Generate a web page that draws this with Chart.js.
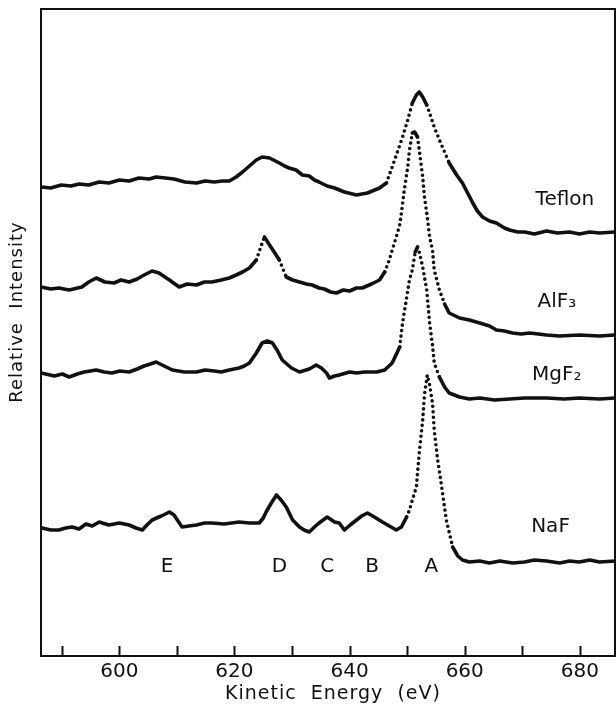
<!DOCTYPE html>
<html>
<head>
<meta charset="utf-8">
<script src="https://cdn.jsdelivr.net/npm/chart.js@4.4.1/dist/chart.umd.min.js"></script>
<style>
  html, body { margin: 0; padding: 0; background: #fff; }
  #wrap { width: 616px; height: 710px; }
</style>
</head>
<body>
<div id="wrap"><canvas id="chart"></canvas></div>
<script>
// x axis ticks (eV)
const xTicks = [590, 600, 610, 620, 630, 640, 650, 660, 670, 680];
const xTickLabels = ['', '600', '', '620', '', '640', '', '660', '', '680'];

// Teflon
const teflonEnergy = [586.4, 588.1, 589.9, 591.6, 593.0, 594.7, 596.5, 598.2, 600.0, 601.7, 603.4, 605.2, 606.4, 608.0, 609.5, 611.4, 613.4, 614.9, 616.5, 617.9, 619.1, 620.3, 621.4, 622.6, 623.8, 624.8, 626.1, 627.8, 628.7, 629.5, 630.7, 631.8, 633.0, 633.9, 634.7, 636.1, 637.4, 639.1, 641.2, 643.1, 645.2, 646.4, 647.4, 648.3, 649.2, 650.1, 650.9, 651.6, 652.1, 652.7, 653.4, 653.9, 654.7, 655.6, 656.5, 657.3, 658.6, 659.6, 660.5, 661.4, 662.2, 663.1, 664.3, 665.5, 666.9, 667.8, 669.2, 670.4, 672.1, 674.2, 676.1, 678.2, 679.9, 681.7, 683.4, 686.1];
const teflonIntensity = [469, 468, 471, 470, 472, 471, 474, 473, 476, 475, 478, 477, 479, 478, 477, 474, 473, 475, 474, 475, 475, 479, 484, 490, 496, 499, 498, 493, 490, 488, 486, 481, 480, 476, 474, 470, 468, 464, 461, 463, 468, 473, 489, 504, 519, 536, 553, 561, 564, 559, 551, 543, 529, 516, 504, 493, 481, 473, 463, 453, 445, 439, 435, 433, 428, 426, 424, 424, 422, 425, 423, 424, 422, 424, 423, 424];

// AlF3
const alf3Energy = [586.4, 588.1, 589.5, 591.3, 593.5, 594.7, 596.0, 597.5, 599.1, 600.3, 601.7, 603.1, 604.3, 605.7, 606.9, 608.7, 610.4, 611.8, 613.4, 614.8, 616.1, 617.7, 619.1, 620.3, 621.4, 622.6, 623.8, 624.7, 625.2, 626.1, 626.9, 627.8, 628.5, 629.0, 630.1, 631.3, 632.5, 633.5, 634.7, 635.6, 636.7, 637.7, 638.9, 640.0, 641.2, 642.2, 643.8, 645.2, 646.1, 646.9, 647.4, 648.1, 648.7, 649.0, 649.5, 650.1, 650.4, 650.9, 651.3, 651.8, 652.1, 652.7, 653.0, 653.5, 653.9, 654.4, 654.7, 655.6, 656.5, 657.3, 659.1, 660.8, 662.6, 664.3, 665.5, 666.9, 668.3, 669.8, 671.3, 674.2, 676.5, 679.9, 683.4, 686.1];
const alf3Intensity = [369, 367, 368, 366, 369, 374, 378, 374, 373, 376, 374, 377, 381, 385, 383, 376, 369, 372, 371, 374, 374, 376, 378, 381, 384, 388, 396, 411, 419, 411, 404, 396, 386, 379, 376, 374, 372, 371, 368, 367, 364, 363, 366, 365, 368, 368, 372, 376, 384, 396, 406, 419, 431, 443, 466, 489, 506, 523, 524, 519, 506, 479, 459, 439, 419, 406, 386, 366, 352, 343, 338, 336, 333, 330, 326, 325, 323, 322, 323, 321, 320, 321, 320, 321];

// MgF2
const mgf2Energy = [586.4, 588.7, 590.1, 591.3, 592.7, 593.9, 596.0, 597.4, 598.7, 600.1, 601.7, 603.1, 604.3, 605.4, 606.4, 607.8, 609.2, 611.3, 613.4, 614.9, 616.5, 617.7, 619.1, 620.8, 621.7, 622.6, 623.8, 624.8, 625.7, 626.6, 627.4, 628.3, 629.9, 631.3, 633.0, 634.2, 635.1, 636.0, 636.5, 637.4, 638.2, 640.0, 641.2, 642.6, 644.7, 646.1, 647.4, 648.7, 649.2, 649.9, 650.4, 650.9, 651.4, 651.8, 652.1, 652.7, 653.4, 653.9, 654.4, 654.7, 655.6, 656.5, 657.3, 659.1, 660.8, 662.6, 665.2, 667.8, 670.4, 674.2, 677.3, 679.9, 683.4, 686.1];
const mgf2Intensity = [283, 280, 282, 279, 282, 284, 286, 284, 283, 285, 284, 287, 290, 292, 294, 290, 286, 284, 284, 286, 285, 284, 286, 288, 290, 293, 303, 313, 315, 313, 306, 296, 288, 284, 287, 291, 288, 283, 278, 280, 281, 284, 283, 284, 284, 286, 293, 309, 333, 358, 376, 386, 404, 409, 404, 389, 366, 333, 311, 293, 279, 269, 263, 259, 257, 258, 256, 257, 258, 258, 257, 258, 257, 258];

// NaF
const nafEnergy = [586.6, 588.1, 589.5, 590.7, 591.8, 593.0, 594.2, 595.3, 596.5, 598.2, 600.0, 601.7, 602.9, 604.0, 604.8, 605.7, 607.3, 608.7, 609.5, 610.2, 610.9, 612.1, 613.4, 614.8, 616.1, 618.2, 620.8, 622.6, 624.3, 625.0, 625.5, 626.4, 627.3, 628.1, 629.0, 630.1, 631.3, 632.1, 633.0, 633.9, 634.7, 636.1, 637.4, 638.2, 639.1, 640.1, 641.2, 642.1, 643.1, 644.3, 645.7, 646.9, 648.1, 649.0, 649.9, 650.4, 650.9, 651.6, 652.1, 652.7, 653.0, 653.5, 653.9, 654.4, 654.7, 655.3, 656.0, 656.8, 657.9, 658.8, 659.6, 660.8, 662.6, 664.3, 666.1, 668.3, 670.4, 672.1, 674.2, 676.5, 678.2, 679.9, 681.7, 683.4, 686.1];
const nafIntensity = [128, 126, 126, 128, 129, 127, 132, 130, 134, 131, 133, 131, 128, 126, 131, 136, 140, 144, 141, 135, 129, 130, 131, 133, 133, 132, 134, 133, 133, 138, 144, 153, 161, 156, 149, 136, 129, 126, 124, 129, 133, 139, 134, 133, 126, 131, 136, 140, 143, 139, 134, 130, 126, 129, 139, 146, 156, 169, 203, 236, 261, 281, 271, 253, 226, 196, 169, 136, 109, 100, 96, 94, 95, 93, 95, 93, 94, 96, 95, 93, 95, 94, 96, 94, 95];

const seriesNames = ['Teflon', 'AlF₃', 'MgF₂', 'NaF'];
const peakLetters = ['E', 'D', 'C', 'B', 'A'];
const peakEnergies = [608.3, 627.8, 636.1, 643.9, 654.2];

const series = [
  [teflonEnergy, teflonIntensity],
  [alf3Energy, alf3Intensity],
  [mgf2Energy, mgf2Intensity],
  [nafEnergy, nafIntensity]
];

// label spots in data units
const nameSpots = [[677.4, 456], [676.0, 354], [676.0, 281], [674.9, 129]];
const letterLevel = 89;

const FONT = '"DejaVu Sans", sans-serif';
const INK = '#111';

// steep parts of the trace come out as separate dots
function steepDash(ctx) {
  const dx = Math.abs(ctx.p1.x - ctx.p0.x);
  const dy = Math.abs(ctx.p1.y - ctx.p0.y);
  return dy > 2.2 * dx ? [0, 5.5] : undefined;
}

const decor = {
  id: 'decor',
  afterDraw(chart) {
    const { ctx, chartArea: a, scales: { x, y } } = chart;
    ctx.save();
    ctx.strokeStyle = INK;
    ctx.lineWidth = 2;
    ctx.strokeRect(a.left, a.top, a.right - a.left, a.bottom - a.top);

    // inward ticks on the energy axis
    ctx.beginPath();
    xTicks.forEach(v => {
      const px = Math.round(x.getPixelForValue(v)) + 0.5;
      ctx.moveTo(px, a.bottom);
      ctx.lineTo(px, a.bottom - 10);
    });
    ctx.stroke();

    ctx.fillStyle = INK;
    ctx.textAlign = 'center';
    ctx.textBaseline = 'middle';

    ctx.font = '19px ' + FONT;
    ctx.letterSpacing = '1px';
    ctx.fillText('Kinetic  Energy  (eV)', 333, 694);

    ctx.save();
    ctx.translate(17, 312);
    ctx.rotate(-Math.PI / 2);
    ctx.font = '18px ' + FONT;
    ctx.fillText('Relative  Intensity', 0, 0);
    ctx.restore();

    ctx.letterSpacing = '0px';
    ctx.font = '20px ' + FONT;
    seriesNames.forEach((n, i) => {
      ctx.fillText(n, x.getPixelForValue(nameSpots[i][0]), y.getPixelForValue(nameSpots[i][1]));
    });
    peakLetters.forEach((l, i) => {
      ctx.fillText(l, x.getPixelForValue(peakEnergies[i]), y.getPixelForValue(letterLevel));
    });
    ctx.restore();
  }
};

new Chart(document.getElementById('chart'), {
  type: 'line',
  data: {
    datasets: series.map((s, i) => ({
      label: seriesNames[i],
      data: s[0].map((e, j) => ({ x: e, y: s[1][j] })),
      borderColor: INK,
      borderWidth: 3.6,
      borderCapStyle: 'round',
      borderJoinStyle: 'round',
      pointRadius: 0,
      tension: 0,
      segment: { borderDash: steepDash }
    }))
  },
  options: {
    responsive: true,
    maintainAspectRatio: false,
    animation: false,
    devicePixelRatio: 1,
    layout: { padding: { top: 9, right: 1, left: 0, bottom: 0 } },
    plugins: { legend: { display: false }, tooltip: { enabled: false } },
    scales: {
      x: {
        type: 'linear',
        min: 586.4,
        max: 686.1,
        grid: { display: false, drawTicks: false },
        border: { display: false },
        afterBuildTicks: s => { s.ticks = xTicks.map(v => ({ value: v })); },
        afterFit: s => { s.height = 54; },
        ticks: {
          autoSkip: false,
          maxRotation: 0,
          padding: 4,
          color: INK,
          font: { family: FONT, size: 20 },
          callback: v => xTickLabels[xTicks.indexOf(v)] ?? ''
        }
      },
      y: {
        min: 0,
        max: 647,
        grid: { display: false, drawTicks: false },
        border: { display: false },
        ticks: { display: false },
        afterFit: s => { s.width = 41; }
      }
    }
  },
  plugins: [decor]
});
</script>
</body>
</html>
